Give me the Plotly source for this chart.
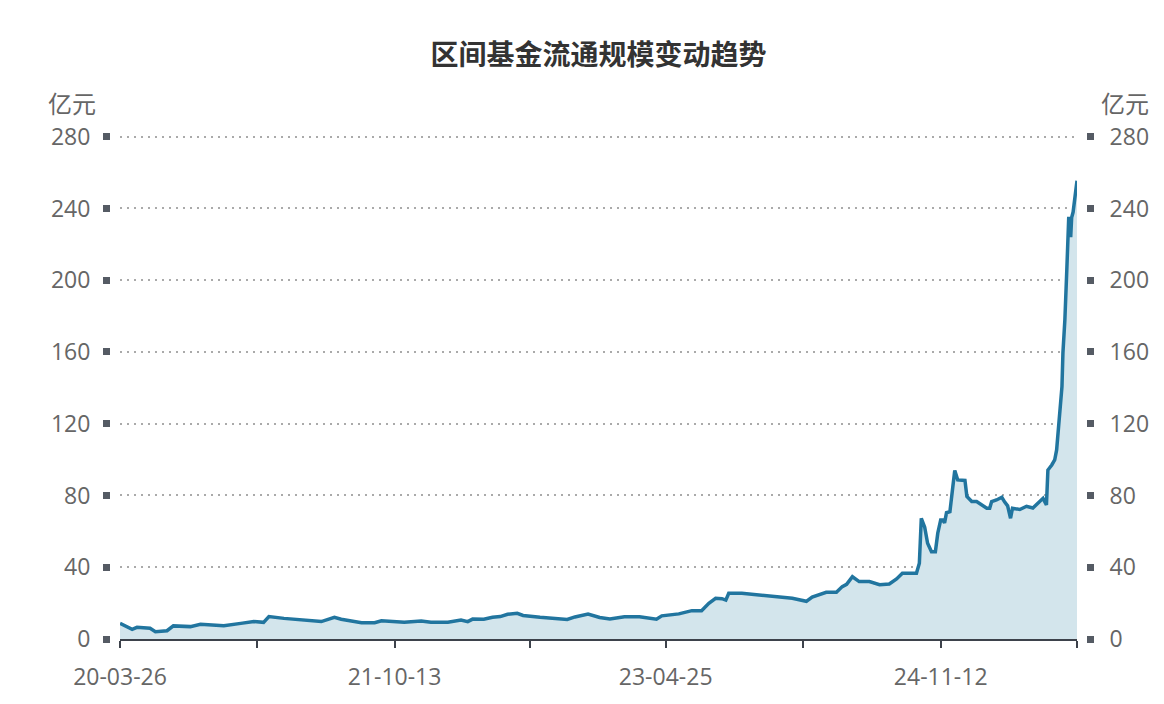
import plotly.graph_objects as go

# ---- data ----
dates = [
    "2020-03-26", "2020-04-20", "2020-04-30", "2020-05-27", "2020-06-07", "2020-07-01",
    "2020-07-14", "2020-08-18", "2020-09-08", "2020-10-26", "2020-11-30", "2020-12-27",
    "2021-01-16", "2021-01-27", "2021-02-27", "2021-03-28", "2021-04-18", "2021-05-15",
    "2021-06-11", "2021-06-25", "2021-08-06", "2021-09-02", "2021-09-16", "2021-11-02",
    "2021-12-07", "2021-12-27", "2022-01-31", "2022-02-27", "2022-03-13", "2022-03-23",
    "2022-04-15", "2022-05-03", "2022-05-19", "2022-06-03", "2022-06-23", "2022-07-05",
    "2022-08-09", "2022-09-19", "2022-10-04", "2022-10-20", "2022-11-16", "2022-12-10",
    "2022-12-31", "2023-01-30", "2023-03-02", "2023-04-06", "2023-04-17", "2023-05-22",
    "2023-06-18", "2023-07-08", "2023-07-23", "2023-08-06", "2023-08-19", "2023-08-27",
    "2023-09-02", "2023-09-29", "2023-11-03", "2023-12-15", "2024-01-11", "2024-02-09",
    "2024-02-21", "2024-03-21", "2024-04-11", "2024-04-23", "2024-05-02", "2024-05-14",
    "2024-05-28", "2024-06-18", "2024-07-09", "2024-07-29", "2024-08-13", "2024-08-25",
    "2024-09-23", "2024-09-29", "2024-10-03", "2024-10-10", "2024-10-16", "2024-10-24",
    "2024-11-01", "2024-11-06", "2024-11-12", "2024-11-16", "2024-11-20", "2024-11-24",
    "2024-12-01", "2024-12-07", "2024-12-11", "2024-12-17", "2025-01-01", "2025-01-05",
    "2025-01-15", "2025-01-25", "2025-02-06", "2025-02-15", "2025-02-21", "2025-02-25",
    "2025-03-07", "2025-03-18", "2025-03-24", "2025-03-30", "2025-04-05", "2025-04-09",
    "2025-04-24", "2025-05-08", "2025-05-21", "2025-06-04", "2025-06-11", "2025-06-18",
    "2025-06-21", "2025-06-29", "2025-07-05", "2025-07-09", "2025-07-13", "2025-07-20",
    "2025-07-22", "2025-07-26", "2025-07-30", "2025-08-01", "2025-08-03", "2025-08-07",
    "2025-08-09", "2025-08-12", "2025-08-20",
]
values = [
    8.7, 5.4, 6.5, 6.0, 4.1, 4.6,
    7.3, 6.9, 8.2, 7.4, 8.7, 9.7,
    9.3, 12.5, 11.5, 11.0, 10.2, 9.7,
    12.1, 11.0, 9.1, 9.1, 10.2, 9.3,
    10.0, 9.3, 9.3, 10.6, 9.7, 11.1,
    11.0, 12.1, 12.5, 13.8, 14.3, 13.1,
    12.1, 11.5, 10.9, 12.3, 13.9, 12.0,
    11.2, 12.4, 12.4, 11.0, 12.9, 14.0,
    15.8, 15.8, 19.9, 22.7, 22.5, 21.7,
    25.5, 25.5, 24.6, 23.7, 22.7, 21.0,
    23.4, 26.0, 26.0, 29.2, 30.5, 34.7,
    32.0, 32.0, 30.3, 30.7, 33.5, 36.6,
    36.6, 42.2, 67.3, 62.3, 53.4, 48.7,
    48.7, 59.0, 66.4, 66.4, 64.7, 70.4,
    71.0, 84.9, 93.9, 88.7, 88.4, 79.4,
    76.6, 76.6, 74.7, 72.9, 72.9, 76.6,
    77.5, 79.0, 76.3, 74.2, 67.3, 72.9,
    72.2, 74.0, 73.0, 76.6, 78.4, 74.7,
    94.2, 97.0, 99.8, 105.4, 120.5, 140.6,
    159.5, 177.9, 205.8, 224.2, 235.4, 224.0,
    235.0, 238.0, 255.5,
]

tick_dates = ["2020-03-26", "2021-01-03", "2021-10-13", "2022-07-20",
              "2023-04-25", "2024-02-02", "2024-11-12", "2025-08-20"]
tick_labels = ["20-03-26", "", "21-10-13", "", "23-04-25", "", "24-11-12", ""]
y_ticks = [0, 40, 80, 120, 160, 200, 240, 280]

title_text = "区间基金流通规模变动趋势"
unit_text = "亿元"

# ---- style ----
FONT = "Open Sans, Noto Sans CJK SC, sans-serif"
LINE = "#21759f"
FILL = "#d3e5ec"
AXIS = "#3d424b"
TICKSQ = "#555b64"
LABEL = "#666666"

W, H = 1164, 704
OFF = 8  # page body margin offset
ML, MR = 92, 68
YR = [0, 281.5]
y_top, y_bot = 126, 639 - OFF
MT, MB = y_top, H - y_bot
paper_w = W - ML - MR
paper_h = H - MT - MB
x0, x1 = 120 - OFF, 1077 - OFF
dom = [(x0 - ML) / paper_w, (x1 - ML) / paper_w]

fig = go.Figure()
fig.add_trace(go.Scatter(
    x=dates, y=values, mode="lines",
    line=dict(color=LINE, width=3.5),
    fill="tozeroy", fillcolor=FILL,
    hoverinfo="x+y", showlegend=False,
))
# invisible trace so the right axis exists
fig.add_trace(go.Scatter(x=[dates[0]], y=[0], yaxis="y2", mode="lines",
                         line=dict(width=0), showlegend=False, hoverinfo="skip"))

fig.update_layout(
    width=W, height=H,
    margin=dict(l=ML, r=MR, t=MT, b=MB),
    paper_bgcolor="white", plot_bgcolor="white",
    font=dict(family=FONT, color=LABEL, size=23),
    title=dict(text="<b>" + title_text + "</b>", x=(598.5 - OFF - ML) / paper_w, xref="paper",
               xanchor="center", y=1 - (55 - OFF) / H, yanchor="middle",
               font=dict(size=28, color="#333333", family="Noto Sans CJK SC")),
    xaxis=dict(
        type="date", domain=dom,
        range=[dates[0], tick_dates[-1]],
        tickmode="array", tickvals=tick_dates, ticktext=tick_labels,
        showline=True, linecolor=AXIS, linewidth=2,
        ticks="outside", ticklen=7, tickwidth=2, tickcolor=AXIS,
        showgrid=False, zeroline=False,
        tickfont=dict(size=23, color=LABEL),
        ticklabelstandoff=9,
    ),
    yaxis=dict(
        range=YR, tickmode="array", tickvals=y_ticks,
        anchor="free", position=(110 - OFF - ML) / paper_w,
        showline=False, zeroline=False,
        ticks="outside", ticklen=7, tickwidth=7, tickcolor=TICKSQ,
        showgrid=True, gridcolor="#aaaaaa", gridwidth=2, griddash="2px,5px",
        tickfont=dict(size=23, color=LABEL),
        ticklabelstandoff=8,
    ),
    yaxis2=dict(
        range=YR, tickmode="array", tickvals=y_ticks,
        overlaying="y", side="right",
        anchor="free", position=(1086 - OFF - ML) / paper_w,
        showline=False, zeroline=False, showgrid=False,
        ticks="outside", ticklen=7, tickwidth=7, tickcolor=TICKSQ,
        tickfont=dict(size=23, color=LABEL),
        ticklabelstandoff=11,
    ),
    annotations=[
        dict(text=unit_text, xref="paper", yref="paper",
             x=(98 - OFF - ML) / paper_w, y=(y_bot - (103 - OFF)) / paper_h,
             xanchor="right", yanchor="middle", showarrow=False,
             font=dict(size=24, color=LABEL, family="Noto Sans CJK SC")),
        dict(text=unit_text, xref="paper", yref="paper",
             x=(1099 - OFF - ML) / paper_w, y=(y_bot - (103 - OFF)) / paper_h,
             xanchor="left", yanchor="middle", showarrow=False,
             font=dict(size=24, color=LABEL, family="Noto Sans CJK SC")),
    ],
)

fig.write_html("out.html")
